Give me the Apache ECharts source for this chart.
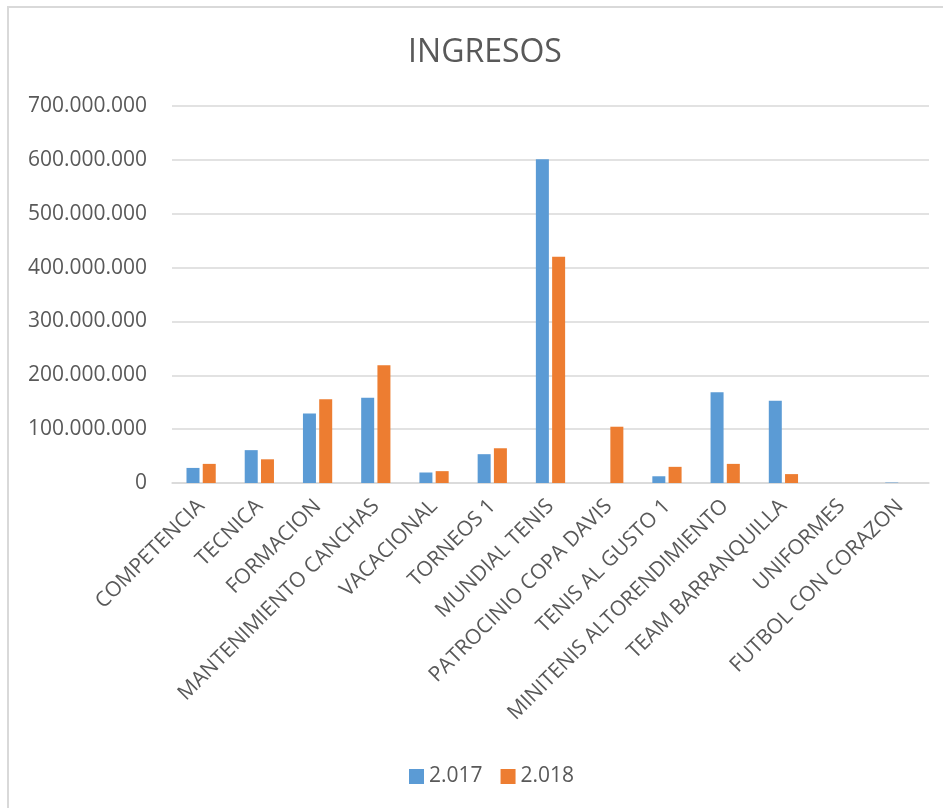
<!DOCTYPE html>
<html>
<head>
    <meta charset="UTF-8">
    <title>INGRESOS</title>
    <script src="https://cdn.jsdelivr.net/npm/echarts@6/dist/echarts.min.js"></script>
    <style>
        html, body { margin: 0; padding: 0; background: #fff; }
        #chart { width: 943px; height: 808px; }
    </style>
</head>
<body>
<div id="chart"></div>
<script>
    // datos
    var categorias = ['COMPETENCIA', 'TECNICA', 'FORMACION', 'MANTENIMIENTO CANCHAS', 'VACACIONAL',
        'TORNEOS 1', 'MUNDIAL TENIS', 'PATROCINIO COPA DAVIS', 'TENIS AL GUSTO 1',
        'MINITENIS ALTORENDIMIENTO', 'TEAM BARRANQUILLA', 'UNIFORMES', 'FUTBOL CON CORAZON'];
    var anios = ['2.017', '2.018'];
    var ingresos2017 = [28000000, 61000000, 129000000, 158500000, 19500000, 53500000, 601000000,
        0, 12500000, 168500000, 152500000, 0, 800000];
    var ingresos2018 = [35500000, 44000000, 155500000, 218500000, 22000000, 64500000, 420000000,
        104500000, 30000000, 35500000, 16500000, 0, 0];
    var ejeY = { min: 0, max: 700000000, interval: 100000000 };

    var gris = '#595959';
    var fuente = '"Open Sans", sans-serif';

    function miles(v) {
        return String(v).replace(/\B(?=(\d{3})+(?!\d))/g, '.');
    }

    var myChart = echarts.init(document.getElementById('chart'));

    var option = {
        backgroundColor: '#fff',
        color: ['#5b9bd5', '#ed7d31'],
        title: {
            text: 'INGRESOS',
            left: 480,
            textAlign: 'center',
            top: 32,
            textStyle: { fontFamily: fuente, fontSize: 32, fontWeight: 'normal', color: gris }
        },
        graphic: [{
            type: 'rect',
            shape: { x: 8, y: 7, width: 940, height: 810 },
            style: { fill: 'none', stroke: '#d9d9d9', lineWidth: 2 },
            silent: true
        }],
        legend: {
            data: anios,
            top: 761,
            left: 404,
            itemWidth: 15,
            itemHeight: 15,
            itemGap: 18,
            icon: 'rect',
            textStyle: { fontFamily: fuente, fontSize: 21, color: gris }
        },
        grid: { left: 172, right: 14, top: 106, bottom: 325 },
        xAxis: {
            type: 'category',
            data: categorias,
            axisLine: { lineStyle: { color: '#d9d9d9', width: 1.5 } },
            axisTick: { show: false },
            axisLabel: {
                interval: 0,
                rotate: 45,
                margin: 20,
                fontFamily: fuente,
                fontSize: 21,
                color: gris
            }
        },
        yAxis: {
            type: 'value',
            min: ejeY.min,
            max: ejeY.max,
            interval: ejeY.interval,
            axisLine: { show: false },
            axisTick: { show: false },
            splitLine: { lineStyle: { color: '#d9d9d9', width: 1.5 } },
            axisLabel: {
                margin: 25,
                fontFamily: fuente,
                fontSize: 21,
                color: gris,
                formatter: miles
            }
        },
        series: [{
            name: anios[0],
            type: 'bar',
            data: ingresos2017,
            barWidth: 13,
            barGap: '25%'
        }, {
            name: anios[1],
            type: 'bar',
            data: ingresos2018,
            barWidth: 13,
            barGap: '25%'
        }]
    };

    myChart.setOption(option);
</script>
</body>
</html>
